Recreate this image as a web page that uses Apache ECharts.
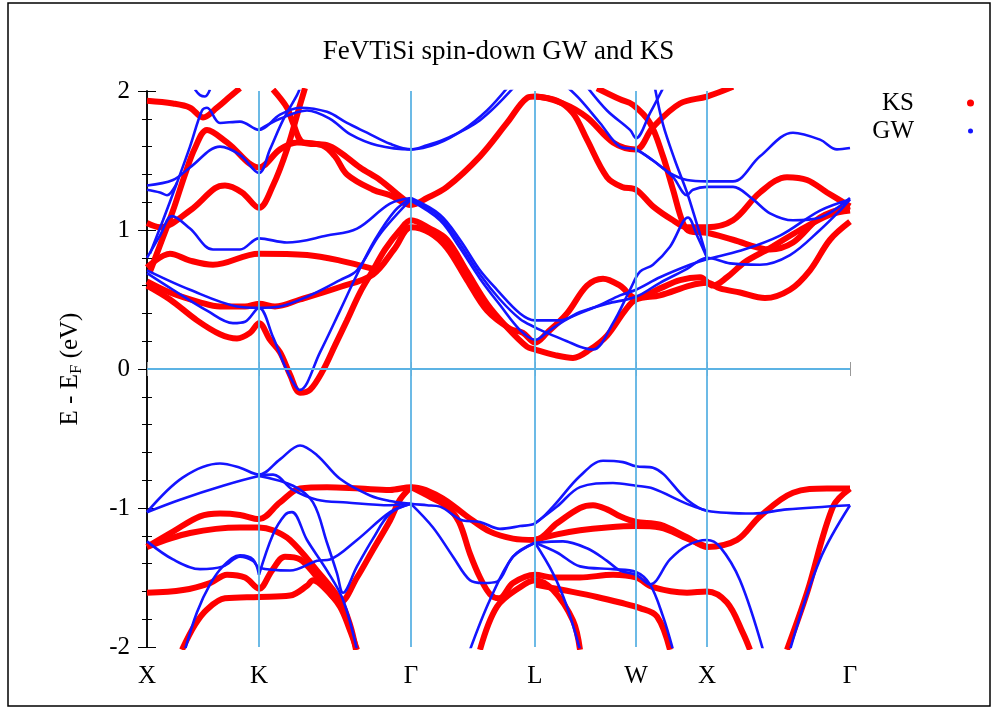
<!DOCTYPE html>
<html>
<head>
<meta charset="utf-8">
<script src="https://cdn.jsdelivr.net/npm/echarts@6/dist/echarts.min.js"></script>
<style>
html,body{margin:0;padding:0;background:#fff}
#chart{width:997px;height:716px}
</style>
</head>
<body>
<div id="chart"></div>
<script>
// k-path: index of the k-point along X-K-Γ-L-W-X-Γ
const kLabels = ['X', 'K', 'Γ', 'L', 'W', 'X', 'Γ'];
const kTicks = [0, 112, 264, 388, 489, 560, 703];

// KS bands: [k index, E - E_F (eV)]
const ksV1 = [[0,-1.28],[26,-1.17],[53,-1.06],[73,-1.04],[93,-1.05],[112,-1.08],[133,-0.96],[153,-0.86],[180,-0.85],[213,-0.86],[243,-0.87],[264,-0.85],[293,-0.92],[320,-1.06],[343,-1.17],[366,-1.22],[388,-1.23],[410,-1.11],[433,-1.0],[446,-0.98],[460,-1.01],[473,-1.06],[489,-1.10],[513,-1.12],[540,-1.21],[560,-1.28],[590,-1.23],[613,-1.06],[646,-0.89],[680,-0.86],[703,-0.86]];
const ksV1b = [[388,-1.23],[410,-1.19],[433,-1.16],[460,-1.14],[489,-1.13],[513,-1.14],[540,-1.22],[560,-1.28]];
const ksV2 = [[0,-1.28],[43,-1.18],[93,-1.14],[112,-1.14],[126,-1.16],[143,-1.23],[170,-1.45],[193,-1.66],[203,-1.84],[209,-2.02]];
const ksV3 = [[264,-0.85],[283,-0.92],[300,-0.99],[312,-1.1],[323,-1.33],[333,-1.5],[343,-1.62],[352,-1.65],[366,-1.54],[388,-1.48],[406,-1.5],[433,-1.5],[466,-1.48],[489,-1.5],[506,-1.57],[540,-1.61],[560,-1.6],[580,-1.68],[596,-1.9],[603,-2.02]];
const ksV4 = [[333,-2.02],[350,-1.71],[373,-1.57],[388,-1.52],[406,-1.59],[426,-1.81],[433,-2.02]];
const ksV5 = [[388,-1.55],[416,-1.59],[450,-1.64],[473,-1.68],[493,-1.72],[510,-1.78],[523,-2.02]];
const ksV6 = [[0,-1.61],[36,-1.59],[63,-1.54],[80,-1.48],[98,-1.50],[112,-1.58],[125,-1.45],[138,-1.35],[153,-1.37],[168,-1.48],[186,-1.64],[193,-1.68],[210,-1.50],[226,-1.30],[243,-1.09],[253,-0.94],[264,-0.85]];
const ksV7 = [[35,-2.02],[48,-1.84],[60,-1.73],[78,-1.65],[112,-1.64],[143,-1.63],[160,-1.56],[166,-1.52],[178,-1.58],[193,-1.71],[203,-1.88],[210,-2.02]];
const ksV8 = [[640,-2.02],[660,-1.61],[686,-0.99],[703,-0.86]];
const ksC1 = [[0,0.60],[23,0.50],[50,0.35],[73,0.25],[90,0.22],[103,0.26],[112,0.33],[123,0.21],[133,0.12],[143,-0.04],[153,-0.17],[163,-0.15],[176,-0.01],[188,0.17],[200,0.35],[213,0.55],[226,0.71],[238,0.86],[253,1.0],[264,1.07],[283,1.01],[300,0.93],[320,0.70],[340,0.47],[360,0.30],[380,0.16],[388,0.14],[408,0.10],[426,0.08],[443,0.14],[460,0.24],[478,0.42],[489,0.50],[513,0.53],[543,0.60],[560,0.62],[573,0.58],[593,0.55],[618,0.51],[643,0.57],[663,0.71],[683,0.93],[703,1.06]];
const ksC2 = [[0,0.63],[23,0.55],[53,0.48],[73,0.45],[98,0.45],[112,0.47],[128,0.45],[153,0.50],[193,0.59],[226,0.68],[248,0.87],[264,1.02],[283,0.98],[300,0.87],[320,0.64],[340,0.42],[363,0.29],[376,0.26],[388,0.19],[400,0.26],[420,0.40],[440,0.60],[456,0.65],[473,0.60],[489,0.51],[513,0.58],[533,0.64],[553,0.66],[566,0.60],[580,0.66],[598,0.77],[623,0.87],[653,1.0],[683,1.11],[703,1.14]];
const ksC3 = [[0,0.73],[23,0.83],[43,0.78],[66,0.75],[112,0.83],[160,0.82],[193,0.78],[226,0.72]];
const ksC4 = [[0,1.05],[13,1.02],[43,1.14],[68,1.30],[78,1.32],[95,1.27],[112,1.16],[126,1.32],[140,1.58],[153,1.90],[158,2.02]];
const ksC5 = [[3,0.70],[13,0.89],[26,1.14],[38,1.40],[48,1.59],[60,1.72],[80,1.63],[112,1.45],[133,1.58],[150,1.63],[175,1.61],[188,1.53],[200,1.40],[226,1.29],[243,1.25],[264,1.18],[280,1.23],[300,1.31],[333,1.53],[360,1.77],[380,1.95],[388,1.96],[416,1.91],[440,1.81],[466,1.63],[489,1.58],[506,1.74],[533,1.91],[560,1.96],[586,2.03]];
const ksC6 = [[126,2.01],[140,1.88],[146,1.77],[156,1.63],[180,1.61],[193,1.56],[213,1.45],[233,1.36],[250,1.26],[264,1.18]];
const ksC7 = [[388,1.96],[410,1.93],[426,1.84],[440,1.65],[460,1.38],[475,1.31],[489,1.29],[506,1.17],[526,1.07],[540,1.02],[560,1.02],[586,1.07],[613,1.27],[640,1.38],[660,1.36],[680,1.27],[703,1.17]];
const ksC8 = [[450,2.02],[473,1.94],[486,1.90],[503,1.77],[516,1.53],[526,1.29],[536,1.05],[543,0.99],[560,0.98],[586,0.93],[623,0.86],[646,0.91],[673,1.09],[703,1.17]];
const ksTop = [[0,1.93],[26,1.91],[43,1.88],[56,1.81],[70,1.88],[83,1.96],[93,2.02]];

// GW bands: [k index, E - E_F (eV)]
const gwV1 = [[0,-1.03],[36,-0.78],[73,-0.68],[93,-0.71],[112,-0.76],[133,-0.65],[153,-0.55],[170,-0.62],[193,-0.79],[223,-0.91],[243,-0.95],[264,-0.97],[280,-0.98],[293,-0.99],[316,-1.09],[333,-1.1],[353,-1.15],[373,-1.13],[388,-1.11],[406,-0.99],[433,-0.77],[456,-0.66],[476,-0.67],[489,-0.70],[506,-0.71],[540,-0.94],[560,-1.02],[606,-1.04],[640,-1.01],[703,-0.98]];
const gwV2 = [[0,-1.03],[33,-0.94],[76,-0.84],[112,-0.77],[126,-0.76],[146,-0.87],[170,-0.94],[200,-0.96],[243,-0.98],[264,-0.97]];
const gwV2b = [[388,-1.11],[410,-0.99],[433,-0.85],[466,-0.82],[489,-0.84],[506,-0.86],[540,-0.97],[560,-1.02]];
const gwV3 = [[0,-1.24],[26,-1.37],[53,-1.44],[76,-1.42],[93,-1.35],[106,-1.38],[112,-1.43],[143,-1.45],[170,-1.38],[183,-1.37],[210,-1.23],[243,-1.03],[264,-0.97]];
const gwV4 = [[112,-0.77],[146,-0.84],[166,-0.96],[180,-1.25],[190,-1.47],[196,-1.61],[210,-1.42],[226,-1.22],[243,-1.04],[264,-0.97]];
const gwV5 = [[112,-1.48],[126,-1.19],[138,-1.05],[145,-1.03],[160,-1.23],[180,-1.45],[196,-1.66],[210,-2.02]];
const gwV6 = [[38,-2.02],[50,-1.75],[63,-1.55],[76,-1.42],[93,-1.34],[106,-1.37],[112,-1.48]];
const gwV7 = [[264,-0.97],[286,-1.14],[306,-1.35],[323,-1.52],[336,-1.54],[350,-1.53],[366,-1.35],[388,-1.25]];
const gwV8 = [[323,-2.02],[343,-1.66],[366,-1.35],[388,-1.25]];
const gwV9 = [[388,-1.25],[406,-1.47],[420,-1.71],[433,-2.02]];
const gwV10 = [[388,-1.25],[416,-1.24],[440,-1.29],[460,-1.38],[473,-1.45],[489,-1.48],[503,-1.55],[523,-1.37],[540,-1.27],[560,-1.23],[573,-1.28],[593,-1.52],[616,-2.02]];
const gwV11 = [[388,-1.25],[410,-1.32],[433,-1.42],[466,-1.44],[489,-1.46],[503,-1.55],[516,-1.78],[526,-2.02]];
const gwV12 = [[643,-2.02],[673,-1.37],[703,-0.98]];
const gwC1 = [[0,0.69],[26,0.57],[60,0.42],[86,0.33],[98,0.34],[112,0.44],[126,0.23],[140,-0.01],[153,-0.15],[173,0.12],[193,0.42],[210,0.68],[228,0.93],[248,1.14],[264,1.23]];
const gwC2 = [[0,0.71],[43,0.57],[90,0.45],[112,0.44],[133,0.45],[160,0.52],[193,0.64],[210,0.71],[233,0.97],[264,1.22]];
const gwC3 = [[0,0.80],[13,0.96],[25,1.10],[43,1.01],[66,0.86],[93,0.86],[112,0.94],[140,0.91],[180,0.96],[210,1.01],[243,1.19],[264,1.23]];
const gwC4 = [[3,0.83],[16,1.07],[30,1.34],[43,1.60],[55,1.86],[60,1.88],[73,1.77],[93,1.78],[112,1.72],[133,1.83],[153,1.88],[180,1.85],[200,1.77],[220,1.70],[243,1.62],[264,1.58],[280,1.61],[300,1.66],[333,1.79],[366,2.02]];
const gwC5 = [[0,1.32],[26,1.36],[43,1.45],[73,1.60],[93,1.54],[112,1.41],[123,1.58],[136,1.79],[150,1.97],[153,2.02]];
const gwC6 = [[0,1.29],[13,1.27],[20,1.25],[30,1.34]];
const gwC7 = [[48,2.01],[53,1.97],[58,1.96],[63,2.01]];
const gwC8 = [[112,1.72],[133,1.80],[160,1.86],[183,1.80],[203,1.69],[230,1.61],[264,1.58],[290,1.62],[316,1.72],[340,1.86],[360,2.02]];
const gwC9 = [[264,1.23],[293,1.11],[313,0.93],[333,0.71],[350,0.57],[373,0.40],[388,0.35],[413,0.35],[433,0.41],[460,0.47],[489,0.52],[513,0.62],[540,0.72],[560,0.80],[583,0.76],[613,0.75],[643,0.82],[673,1.0],[693,1.14],[703,1.22]];
const gwC10 = [[264,1.21],[293,1.07],[313,0.87],[333,0.65],[353,0.46],[373,0.28],[388,0.21],[403,0.28],[423,0.37],[453,0.46],[473,0.53],[489,0.57],[513,0.66],[543,0.75],[560,0.79],[593,0.85],[633,0.96],[673,1.14],[703,1.22]];
const gwC11 = [[264,1.22],[293,1.09],[313,0.90],[333,0.68],[353,0.50],[373,0.36],[388,0.30],[400,0.26],[420,0.20],[433,0.16],[446,0.14],[466,0.33],[483,0.57],[493,0.70],[506,0.75],[523,0.88],[541,1.09],[550,0.96],[560,0.80]];
const gwC14 = [[420,2.03],[433,1.94],[453,1.77],[473,1.60],[489,1.58],[506,1.50],[523,1.41],[540,1.36],[560,1.35],[586,1.35],[613,1.53],[646,1.70],[673,1.65],[690,1.58],[703,1.59]];
const gwC15 = [[440,2.03],[460,1.86],[483,1.72],[489,1.66],[503,1.84],[516,2.02]];
const gwC16 = [[489,1.58],[506,1.50],[526,1.38],[540,1.25],[546,1.29],[560,1.31],[586,1.31],[606,1.22],[623,1.12],[646,1.07],[673,1.09],[703,1.23]];
const gwC17 = [[508,2.02],[516,1.76],[528,1.50],[540,1.27],[550,1.04],[560,0.80]];

const ksBands = [ksV1, ksV1b, ksV2, ksV3, ksV4, ksV5, ksV6, ksV7, ksV8, ksC1, ksC2, ksC3, ksC4, ksC5, ksC6, ksC7, ksC8, ksTop];
const gwBands = [gwV1, gwV2, gwV2b, gwV3, gwV4, gwV5, gwV6, gwV7, gwV8, gwV9, gwV10, gwV11, gwV12,
                 gwC1, gwC2, gwC3, gwC4, gwC5, gwC6, gwC7, gwC8, gwC9, gwC10, gwC11, gwC14, gwC15, gwC16, gwC17];

const serif = 'Liberation Serif';
const guideColor = '#5cb3e4';
const ksColor = '#ff0000';
const gwColor = '#1414ff';

const chart = echarts.init(document.getElementById('chart'));

const series = [];
// high-symmetry guides and the Fermi level
series.push({
  type: 'line', data: [], silent: true, z: 1,
  markLine: {
    silent: true, symbol: 'none', animation: false,
    label: { show: false },
    lineStyle: { color: guideColor, width: 1.8, type: 'solid', opacity: 1 },
    data: kTicks.slice(1, -1).map(v => ({ xAxis: v })).concat([{ yAxis: 0 }])
  }
});
ksBands.forEach(b => series.push({
  name: 'KS', type: 'line', data: b, smooth: 0.35, showSymbol: false, silent: true, z: 2,
  lineStyle: { color: ksColor, width: 6 }, itemStyle: { color: ksColor }
}));
gwBands.forEach(b => series.push({
  name: 'GW', type: 'line', data: b, smooth: 0.35, showSymbol: false, silent: true, z: 3,
  lineStyle: { color: gwColor, width: 2.6 }, itemStyle: { color: gwColor }
}));

const axisLine = { show: true, lineStyle: { color: '#000', width: 1.5 } };
const legendText = { fontFamily: serif, fontSize: 25, color: '#000', lineHeight: 26 };

chart.setOption({
  animation: false,
  backgroundColor: '#fff',
  title: {
    text: 'FeVTiSi spin-down GW and KS',
    left: 'center', top: 33,
    textStyle: { fontFamily: serif, fontSize: 27, fontWeight: 'normal', color: '#000' }
  },
  legend: [
    { data: ['KS'], right: 23, top: 90, padding: 0, orient: 'vertical', align: 'right', icon: 'circle',
      itemWidth: 7, itemHeight: 7, selectedMode: false,
      textStyle: Object.assign({ padding: [0, 48, 0, 0] }, legendText) },
    { data: ['GW'], right: 24, top: 118, padding: 0, orient: 'vertical', align: 'right', icon: 'circle',
      itemWidth: 5, itemHeight: 5, selectedMode: false,
      textStyle: Object.assign({ padding: [0, 49, 0, 0] }, legendText) }
  ],
  grid: { left: 147, top: 91, width: 703, height: 556, containLabel: false },
  xAxis: [
    { type: 'value', min: 0, max: 703, position: 'bottom',
      axisLine, splitLine: { show: false },
      axisTick: { customValues: kTicks, inside: true, length: 7, lineStyle: { color: '#999' } },
      axisLabel: { customValues: kTicks, margin: 17, fontFamily: serif, fontSize: 25, color: '#000',
        formatter: v => kLabels[kTicks.indexOf(v)] } },
    { type: 'value', min: 0, max: 703, position: 'top',
      axisLine, splitLine: { show: false },
      axisTick: { customValues: kTicks, inside: true, length: 7, lineStyle: { color: '#999' } },
      axisLabel: { show: false } }
  ],
  yAxis: [
    { type: 'value', min: -2, max: 2, interval: 1, position: 'left',
      axisLine, splitLine: { show: false },
      axisTick: { inside: true, length: 9, lineStyle: { color: '#000' } },
      minorTick: { show: true, splitNumber: 5, length: 5, lineStyle: { color: '#000' } },
      axisLabel: { margin: 17, fontFamily: serif, fontSize: 25, color: '#000' },
      name: '{a|E - E}{s|F}{a| (eV)}', nameLocation: 'middle', nameGap: 62, nameRotate: 90,
      nameTextStyle: { color: '#000', rich: {
        a: { fontFamily: serif, fontSize: 25, color: '#000', lineHeight: 30, verticalAlign: 'middle' },
        s: { fontFamily: serif, fontSize: 17, color: '#000', lineHeight: 30, verticalAlign: 'bottom' } } } },
    { type: 'value', min: -2, max: 2, interval: 1, position: 'right',
      axisLine, splitLine: { show: false },
      axisTick: { inside: true, length: 9, lineStyle: { color: '#000' } },
      minorTick: { show: true, splitNumber: 5, length: 5, lineStyle: { color: '#000' } },
      axisLabel: { show: false } }
  ],
  graphic: [
    { type: 'rect', silent: true, z: 100,
      shape: { x: 8, y: 3, width: 982, height: 703 },
      style: { fill: 'none', stroke: '#000', lineWidth: 1.5 } }
  ],
  series
});
</script>
</body>
</html>
